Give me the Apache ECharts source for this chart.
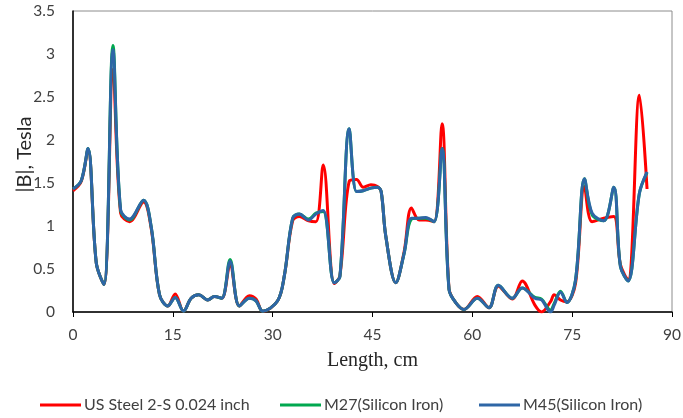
<!DOCTYPE html>
<html>
<head>
<meta charset="utf-8">
<script src="https://cdn.jsdelivr.net/npm/echarts@6/dist/echarts.min.js"></script>
<style>html,body{margin:0;padding:0;background:#fff}#c{width:683px;height:418px}</style>
</head>
<body>
<div id="c"></div>
<script>
var seriesNames = ['US Steel 2-S 0.024 inch', 'M27(Silicon Iron)', 'M45(Silicon Iron)'];
var xTicks = [0, 15, 30, 45, 60, 75, 90];
var yTicks = [0, 0.5, 1, 1.5, 2, 2.5, 3, 3.5];
var lengthCm = [0, 1.25, 2.25, 3.5, 4.65, 6.0, 7.15, 8.5, 10.6, 11.75, 13, 14.25, 15.35, 16.6, 17.75, 18.9, 20.25, 21.25, 22.35, 23.6, 25.0, 26.5, 27.5, 28.5, 30.75, 31.75, 33, 34, 35.4, 36.5, 37.6, 39.25, 40.1, 41.5, 42.6, 43.6, 44.75, 45.75, 46.3, 47.0, 48.5, 49.75, 50.85, 52, 53, 54.25, 55.45, 56.5, 57.5, 58.75, 60.75, 62.5, 63.9, 66, 67.5, 69.4, 70.4, 71.75, 72.3, 73.25, 74.2, 75.5, 76.85, 78, 79.75, 81.25, 82.25, 83.4, 85.1, 86.25];
var usSteel = [1.41, 1.52, 1.89, 0.57, 0.32, 2.82, 1.15, 1.05, 1.28, 0.97, 0.20, 0.07, 0.21, 0.01, 0.16, 0.20, 0.14, 0.18, 0.16, 0.55, 0.07, 0.19, 0.15, 0.01, 0.13, 0.42, 1.06, 1.11, 1.06, 1.05, 1.71, 0.33, 0.42, 1.52, 1.54, 1.45, 1.48, 1.46, 1.40, 0.88, 0.34, 0.70, 1.21, 1.07, 1.07, 1.05, 2.19, 0.27, 0.11, 0.03, 0.18, 0.05, 0.30, 0.15, 0.36, 0.08, 0.00, 0.12, 0.20, 0.14, 0.12, 0.33, 1.46, 1.05, 1.09, 1.11, 0.55, 0.37, 2.52, 1.43];
var m27 = [1.43, 1.53, 1.90, 0.57, 0.32, 3.10, 1.18, 1.07, 1.30, 0.99, 0.20, 0.07, 0.17, 0.01, 0.16, 0.20, 0.14, 0.18, 0.16, 0.61, 0.07, 0.16, 0.13, 0.01, 0.13, 0.42, 1.09, 1.14, 1.08, 1.15, 1.17, 0.34, 0.41, 2.13, 1.40, 1.41, 1.44, 1.45, 1.40, 0.88, 0.34, 0.68, 1.08, 1.09, 1.09, 1.05, 1.90, 0.26, 0.11, 0.03, 0.16, 0.05, 0.31, 0.16, 0.28, 0.17, 0.15, 0.02, 0.10, 0.24, 0.11, 0.37, 1.55, 1.13, 1.06, 1.45, 0.53, 0.36, 1.38, 1.62];
var m45 = [1.43, 1.53, 1.90, 0.57, 0.32, 3.05, 1.19, 1.08, 1.30, 0.99, 0.20, 0.07, 0.17, 0.01, 0.16, 0.20, 0.14, 0.18, 0.16, 0.59, 0.07, 0.16, 0.13, 0.01, 0.13, 0.42, 1.09, 1.14, 1.07, 1.14, 1.18, 0.34, 0.41, 2.13, 1.40, 1.41, 1.44, 1.45, 1.40, 0.88, 0.34, 0.68, 1.09, 1.09, 1.10, 1.05, 1.90, 0.26, 0.11, 0.03, 0.16, 0.05, 0.31, 0.16, 0.28, 0.16, 0.14, 0.00, 0.08, 0.23, 0.11, 0.37, 1.55, 1.15, 1.06, 1.45, 0.53, 0.36, 1.38, 1.63];

function zip(ys) { return lengthCm.map(function (x, i) { return [x, ys[i]]; }); }
var colors = ['#FF0000', '#00A84F', '#2E66A6'];
var chart = echarts.init(document.getElementById('c'), null, {renderer: 'canvas'});
function mkLegend(i, left) {
  return {
    data: [seriesNames[i]], left: left, top: 397, padding: 0, icon: 'rect', itemWidth: 41, itemHeight: 3, itemGap: 0,
    textStyle: {fontFamily: 'Lato', fontSize: 16, color: '#404040', padding: [0, 0, 0, -2]}
  };
}
chart.setOption({
  animation: false,
  color: colors,
  grid: {left: 73, right: 11, top: 11, bottom: 106, show: true, borderColor: '#8c8c8c', borderWidth: 1, containLabel: false, outerBoundsMode: 'none'},
  legend: [mkLegend(0, 40), mkLegend(1, 280), mkLegend(2, 479)],
  xAxis: {
    type: 'value', min: xTicks[0], max: xTicks[xTicks.length - 1], interval: 15,
    name: 'Length, cm', nameLocation: 'middle', nameGap: 39,
    nameTextStyle: {fontFamily: 'Liberation Serif', fontSize: 20, color: '#262626'},
    axisLine: {lineStyle: {color: '#000', width: 1.5}},
    axisTick: {show: true, length: 5, lineStyle: {color: '#000'}},
    axisLabel: {fontFamily: 'Lato', fontSize: 15.5, color: '#404040', margin: 15},
    splitLine: {show: false}
  },
  yAxis: {
    type: 'value', min: yTicks[0], max: yTicks[yTicks.length - 1], interval: 0.5,
    name: '|B|, Tesla', nameLocation: 'middle', nameGap: 38, nameMoveOverlap: false,
    nameTextStyle: {fontFamily: 'Lato', fontSize: 20, color: '#262626', padding: [0, 0, 0, 14]},
    axisLine: {show: true, lineStyle: {color: '#000', width: 1.5}},
    axisTick: {show: false},
    axisLabel: {fontFamily: 'Lato', fontSize: 15.5, color: '#404040', margin: 18},
    splitLine: {show: false}
  },
  series: [
    {name: seriesNames[0], type: 'line', data: zip(usSteel), smooth: 0.35, showSymbol: false, lineStyle: {width: 3, color: colors[0]}, z: 2},
    {name: seriesNames[1], type: 'line', data: zip(m27), smooth: 0.35, showSymbol: false, lineStyle: {width: 3, color: colors[1]}, z: 3},
    {name: seriesNames[2], type: 'line', data: zip(m45), smooth: 0.35, showSymbol: false, lineStyle: {width: 3, color: colors[2]}, z: 4}
  ]
});
</script>
</body>
</html>
